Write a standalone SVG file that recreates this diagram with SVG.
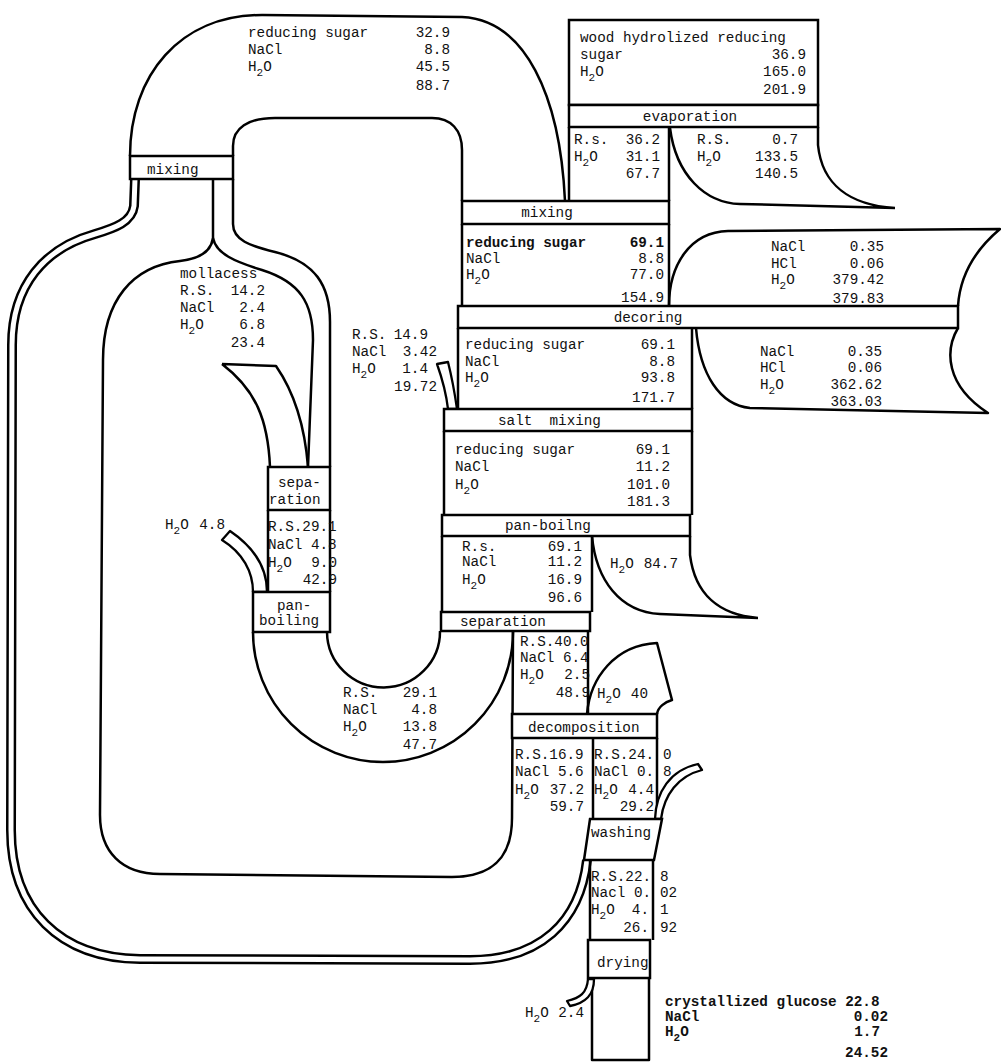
<svg xmlns="http://www.w3.org/2000/svg" width="1001" height="1062" viewBox="0 0 1001 1062">
<style>
.ln{fill:none;stroke:#000;stroke-width:2.5;stroke-linejoin:round}
.bx{fill:#fff;stroke:#000;stroke-width:2.5}
.wf{fill:#fff;stroke:#000;stroke-width:2.3;stroke-linejoin:round}
.bandb{fill:none;stroke:#000;stroke-width:10}
.bandw{fill:none;stroke:#fff;stroke-width:5}
text{font-family:"Liberation Mono","DejaVu Sans Mono",monospace;font-size:14.3px;fill:#111}
.e{text-anchor:end}
.m{text-anchor:middle}
.b{font-weight:bold}
.sb{font-size:11px}
</style>
<rect width="1001" height="1062" fill="#fff"/>

<g id="connectors">
  <path class="bandb" d="M135,179 L134,206 C132,222 115,228 95,234 C45,248 12,285 12,345 L11,830 C11,910 60,958 140,959 L470,960 C540,960 580,922 587,860"/>
  <path class="bandw" d="M135,179 L134,206 C132,222 115,228 95,234 C45,248 12,285 12,345 L11,830 C11,910 60,958 140,959 L470,960 C540,960 580,922 587,860"/>
  <path class="ln" d="M130,156 C130,75 180,15 262,15 L462,17 C525,20 560,95 565,201"/>
  <path class="ln" d="M233,156 L233,146 C233,128 248,118 275,118 L432,118 C451,118 462,130 462,150 L462,201"/>
  <path class="ln" d="M569,127 V201 M669,127 V201"/>
  <path class="ln" d="M670,128 C676,175 705,203 740,204 L895,208 M818,127 L818,145 C822,185 850,205 895,208"/>
  <path class="ln" d="M462,224 V306 M669,224 V306"/>
  <path class="ln" d="M669,306 C669,265 690,232 728,231 L1000,229 C975,250 960,275 958,306"/>
  <path class="ln" d="M458,328 V409 M692,328 V409"/>
  <path class="ln" d="M696,328 C700,375 720,405 750,408 L988,413 C945,385 945,350 958,328"/>
  <path class="wf" d="M437,364 L448,362 C452,378 455,395 457,409 L448,409 C446,392 442,378 437,364 Z"/>
  <path class="ln" d="M444,431 V515 M692,431 V515"/>
  <path class="ln" d="M442,536 V612 M592,536 V612"/>
  <path class="ln" d="M592,536 C596,580 620,612 660,614 L758,618 M690,536 L690,555 C695,595 720,615 758,618"/>
  <path class="ln" d="M327,632 A56.5,56 0 0 0 440,631"/>
  <path class="ln" d="M253,632 A130,130 0 0 0 513,632"/>
  <path class="ln" d="M588,631 V714"/>
  <path class="ln" d="M587,714 C590,678 615,645 657,643 L672,700 C665,702 658,707 657,714"/>
  <path class="ln" d="M213,180 L213,238 C211,252 198,259 180,261 C133,266 103,300 103,360 L100,815 C100,852 122,874 160,874 L452,877 C492,877 512,858 512,818 L513,631"/>
  <path class="ln" d="M213,238 C216,254 236,262 262,270 C300,282 313,303 313,340 L308,467"/>
  <path class="ln" d="M233,179 L233,224 C233,240 250,246 275,252 C315,262 330,285 330,322 L330,467"/>
  <path class="ln" d="M222,364 L276,366 C294,392 305,428 308,467 M270,467 C268,420 256,390 222,364"/>
  <path class="ln" d="M268,510 V592 M330,510 V592"/>
  <path class="wf" d="M222,540 L230,531 C255,548 267,568 267,592 L253,592 C253,572 243,553 222,540 Z"/>
  <path class="ln" d="M593,738 V819 M657,738 V819"/>
  <path class="wf" d="M655,819 C656,792 670,770 698,764 L702,770 C678,776 664,795 661,819 Z"/>
  <path class="ln" d="M590,860 V940 M653,860 V940"/>
  <path class="ln" d="M592,978 V1060 H649 V978"/>
  <path class="wf" d="M588,979 C587,993 580,998 567,1001 L570,1006 C586,1003 594,995 594,979 Z"/>
</g>

<g id="node-mixing-left">
  <rect class="bx" x="130" y="156" width="103" height="23"/>
  <text x="147" y="174">mixing</text>
</g>
<g id="node-wood-input">
  <rect class="bx" x="569" y="20" width="249" height="85"/>
  <text x="580" y="42">wood hydrolized reducing</text>
  <text x="580" y="59">sugar</text><text class="e" x="806" y="59">36.9</text>
  <text x="580" y="76">H<tspan class="sb" dy="5">2</tspan><tspan dy="-5">O</tspan></text><text class="e" x="806" y="76">165.0</text>
  <text class="e" x="806" y="94">201.9</text>
</g>
<g id="node-evaporation">
  <rect class="bx" x="569" y="105" width="249" height="22"/>
  <text class="m" x="690" y="121">evaporation</text>
</g>
<g id="node-mixing">
  <rect class="bx" x="462" y="201" width="207" height="23"/>
  <text class="m" x="547" y="217">mixing</text>
</g>
<g id="node-decoring">
  <rect class="bx" x="458" y="306" width="500" height="22"/>
  <text class="m" x="648" y="322">decoring</text>
</g>
<g id="node-salt-mixing">
  <rect class="bx" x="444" y="409" width="248" height="22"/>
  <text x="498" y="425" xml:space="preserve" style="white-space:pre">salt  mixing</text>
</g>
<g id="node-pan-boilng">
  <rect class="bx" x="442" y="515" width="248" height="21"/>
  <text x="505" y="530">pan-boilng</text>
</g>
<g id="node-separation">
  <rect class="bx" x="441" y="612" width="149" height="19"/>
  <text x="460" y="626">separation</text>
</g>
<g id="node-decomposition">
  <rect class="bx" x="512" y="714" width="145" height="24"/>
  <text x="528" y="732">decomposition</text>
</g>
<g id="node-washing">
  <polygon class="bx" points="590,819 662,819 654,860 584,860"/>
  <text x="591" y="837">washing</text>
</g>
<g id="node-drying">
  <rect class="bx" x="588" y="940" width="62" height="38"/>
  <text x="597" y="967">drying</text>
</g>
<g id="node-separation-left">
  <rect class="bx" x="268" y="467" width="62" height="43"/>
  <text x="278" y="487">sepa-</text>
  <text x="269" y="504">ration</text>
</g>
<g id="node-pan-boiling-left">
  <rect class="bx" x="253" y="592" width="77" height="40"/>
  <text x="277" y="610">pan-</text>
  <text x="259" y="625">boiling</text>
</g>

<g id="labels">
  <text x="248" y="37">reducing sugar</text><text class="e" x="450" y="37">32.9</text>
  <text x="248" y="54">NaCl</text><text class="e" x="450" y="54">8.8</text>
  <text x="248" y="71">H<tspan class="sb" dy="5">2</tspan><tspan dy="-5">O</tspan></text><text class="e" x="450" y="71">45.5</text>
  <text class="e" x="450" y="90">88.7</text>

  <text x="574" y="144">R.s.</text><text class="e" x="660" y="144">36.2</text>
  <text x="574" y="161">H<tspan class="sb" dy="5">2</tspan><tspan dy="-5">O</tspan></text><text class="e" x="660" y="161">31.1</text>
  <text class="e" x="660" y="178">67.7</text>
  <text x="697" y="144">R.S.</text><text class="e" x="798" y="144">0.7</text>
  <text x="697" y="161">H<tspan class="sb" dy="5">2</tspan><tspan dy="-5">O</tspan></text><text class="e" x="798" y="161">133.5</text>
  <text class="e" x="798" y="178">140.5</text>

  <text class="b" x="466" y="247">reducing sugar</text><text class="e b" x="664" y="247">69.1</text>
  <text x="466" y="263">NaCl</text><text class="e" x="664" y="263">8.8</text>
  <text x="466" y="279">H<tspan class="sb" dy="5">2</tspan><tspan dy="-5">O</tspan></text><text class="e" x="664" y="279">77.0</text>
  <text class="e" x="664" y="302">154.9</text>

  <text x="771" y="251">NaCl</text><text class="e" x="884" y="251">0.35</text>
  <text x="771" y="268">HCl</text><text class="e" x="884" y="268">0.06</text>
  <text x="771" y="284">H<tspan class="sb" dy="5">2</tspan><tspan dy="-5">O</tspan></text><text class="e" x="884" y="284">379.42</text>
  <text class="e" x="884" y="303">379.83</text>

  <text x="465" y="349">reducing sugar</text><text class="e" x="675" y="349">69.1</text>
  <text x="465" y="366">NaCl</text><text class="e" x="675" y="366">8.8</text>
  <text x="465" y="382">H<tspan class="sb" dy="5">2</tspan><tspan dy="-5">O</tspan></text><text class="e" x="675" y="382">93.8</text>
  <text class="e" x="675" y="402">171.7</text>

  <text x="760" y="356">NaCl</text><text class="e" x="882" y="356">0.35</text>
  <text x="760" y="372">HCl</text><text class="e" x="882" y="372">0.06</text>
  <text x="760" y="389">H<tspan class="sb" dy="5">2</tspan><tspan dy="-5">O</tspan></text><text class="e" x="882" y="389">362.62</text>
  <text class="e" x="882" y="406">363.03</text>

  <text x="352" y="339">R.S.</text><text class="e" x="428" y="339">14.9</text>
  <text x="352" y="356">NaCl</text><text class="e" x="437" y="356">3.42</text>
  <text x="352" y="373">H<tspan class="sb" dy="5">2</tspan><tspan dy="-5">O</tspan></text><text class="e" x="428" y="373">1.4</text>
  <text class="e" x="437" y="391">19.72</text>

  <text x="455" y="454">reducing sugar</text><text class="e" x="670" y="454">69.1</text>
  <text x="455" y="471">NaCl</text><text class="e" x="670" y="471">11.2</text>
  <text x="455" y="489">H<tspan class="sb" dy="5">2</tspan><tspan dy="-5">O</tspan></text><text class="e" x="670" y="489">101.0</text>
  <text class="e" x="670" y="506">181.3</text>

  <text x="462" y="551">R.s.</text><text class="e" x="582" y="551">69.1</text>
  <text x="462" y="566">NaCl</text><text class="e" x="582" y="566">11.2</text>
  <text x="462" y="584">H<tspan class="sb" dy="5">2</tspan><tspan dy="-5">O</tspan></text><text class="e" x="582" y="584">16.9</text>
  <text class="e" x="582" y="602">96.6</text>

  <text x="610" y="568">H<tspan class="sb" dy="5">2</tspan><tspan dy="-5">O</tspan></text><text class="e" x="678" y="568">84.7</text>

  <text x="520" y="646">R.S.40.0</text>
  <text x="520" y="662">NaCl 6.4</text>
  <text x="520" y="679">H<tspan class="sb" dy="5">2</tspan><tspan dy="-5">O</tspan></text><text class="e" x="590" y="679">2.5</text>
  <text class="e" x="590" y="697">48.9</text>

  <text x="597" y="698">H<tspan class="sb" dy="5">2</tspan><tspan dy="-5">O</tspan></text><text class="e" x="648" y="698">40</text>

  <text x="515" y="759">R.S.16.9</text>
  <text x="515" y="776">NaCl 5.6</text>
  <text x="515" y="794">H<tspan class="sb" dy="5">2</tspan><tspan dy="-5">O</tspan></text><text class="e" x="584" y="794">37.2</text>
  <text class="e" x="584" y="811">59.7</text>

  <text x="594" y="759">R.S.24.</text><text x="663" y="759">0</text>
  <text x="594" y="776">NaCl 0.</text><text x="663" y="776">8</text>
  <text x="594" y="794">H<tspan class="sb" dy="5">2</tspan><tspan dy="-5">O</tspan></text><text class="e" x="654" y="794">4.4</text>
  <text class="e" x="654" y="811">29.2</text>

  <text x="591" y="881">R.S.22.</text><text x="660" y="881">8</text>
  <text x="591" y="897">Nacl 0.</text><text x="660" y="897">02</text>
  <text x="591" y="914">H<tspan class="sb" dy="5">2</tspan><tspan dy="-5">O</tspan></text><text class="e" x="649" y="914">4.</text><text x="660" y="914">1</text>
  <text class="e" x="649" y="932">26.</text><text x="660" y="932">92</text>

  <text class="b" x="665" y="1006">crystallized glucose 22.8</text>
  <text class="b" x="665" y="1021">NaCl</text><text class="e b" x="888" y="1021">0.02</text>
  <text class="b" x="665" y="1036">H<tspan class="sb" dy="5">2</tspan><tspan dy="-5">O</tspan></text><text class="e b" x="880" y="1036">1.7</text>
  <text class="e b" x="888" y="1057">24.52</text>

  <text x="525" y="1017">H<tspan class="sb" dy="5">2</tspan><tspan dy="-5">O</tspan></text><text class="e" x="584" y="1017">2.4</text>

  <text x="180" y="278">mollacess</text>
  <text x="180" y="295">R.S.</text><text class="e" x="265" y="295">14.2</text>
  <text x="180" y="312">NaCl</text><text class="e" x="265" y="312">2.4</text>
  <text x="180" y="329">H<tspan class="sb" dy="5">2</tspan><tspan dy="-5">O</tspan></text><text class="e" x="265" y="329">6.8</text>
  <text class="e" x="265" y="347">23.4</text>

  <text x="268" y="531">R.S.29.1</text>
  <text x="268" y="549">NaCl 4.8</text>
  <text x="268" y="567">H<tspan class="sb" dy="5">2</tspan><tspan dy="-5">O</tspan></text><text class="e" x="337" y="567">9.0</text>
  <text class="e" x="337" y="584">42.9</text>

  <text x="165" y="529">H<tspan class="sb" dy="5">2</tspan><tspan dy="-5">O</tspan></text><text class="e" x="225" y="529">4.8</text>

  <text x="343" y="697">R.S.</text><text class="e" x="437" y="697">29.1</text>
  <text x="343" y="714">NaCl</text><text class="e" x="437" y="714">4.8</text>
  <text x="343" y="731">H<tspan class="sb" dy="5">2</tspan><tspan dy="-5">O</tspan></text><text class="e" x="437" y="731">13.8</text>
  <text class="e" x="437" y="749">47.7</text>
</g>
</svg>
